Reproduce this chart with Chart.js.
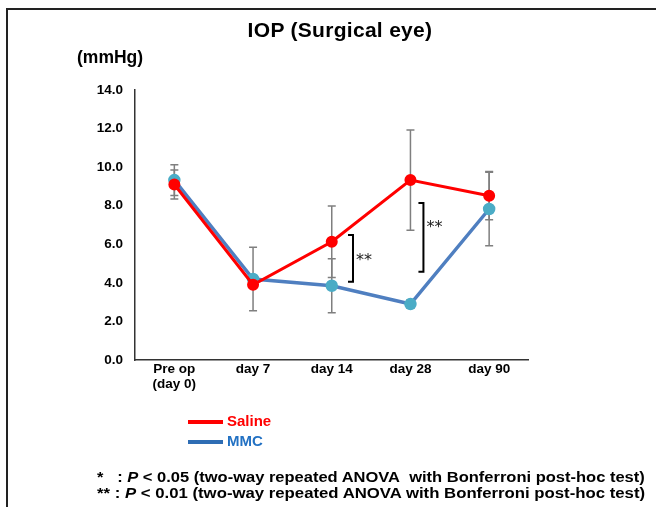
<!DOCTYPE html>
<html>
<head>
<meta charset="utf-8">
<script src="https://cdn.jsdelivr.net/npm/chart.js@4.4.1/dist/chart.umd.min.js"></script>
<style>
  html, body { margin: 0; padding: 0; background: #fff; }
  #wrap { position: relative; width: 656px; height: 507px; overflow: hidden; font-family: "Liberation Sans", Arial, sans-serif; }
  #frame { position: absolute; left: 6px; top: 8px; width: 700px; height: 600px; border-left: 2px solid #222; border-top: 2px solid #222; }
  canvas { position: absolute; left: 0; top: 0; }
  .t { position: absolute; font-weight: bold; white-space: nowrap; color: #000; }
  #title { left: 0; width: 680px; text-align: center; top: 18px; font-size: 21px; letter-spacing: 0.3px; }
  #unit { left: 77px; top: 47px; font-size: 17.5px; }
  .legline { position: absolute; height: 4px; width: 35px; left: 188px; }
  .legtxt { position: absolute; left: 227px; font-size: 15px; font-weight: bold; }
  .foot { position: absolute; display: inline-block; font-size: 14px; font-weight: bold; white-space: nowrap; transform-origin: 0 50%; }
</style>
</head>
<body>
<div id="wrap">
  <div id="frame"></div>
  <canvas id="c" width="656" height="507"></canvas>
  <div class="t" id="title">IOP (Surgical eye)</div>
  <div class="t" id="unit">(mmHg)</div>
  <div class="legline" style="top:420px;background:#ff0000;"></div>
  <div class="legtxt" style="top:412px;color:#ff0000;">Saline</div>
  <div class="legline" style="top:440px;background:#2e6db4;"></div>
  <div class="legtxt" style="top:432px;color:#2271c3;">MMC</div>
  <div class="foot" id="f1" style="left:97px;top:469px;">*&nbsp;&nbsp;&nbsp;: <i>P</i> &lt; 0.05 (two-way repeated ANOVA&nbsp; with Bonferroni post-hoc test)</div>
  <div class="foot" id="f2" style="left:97px;top:485px;">** : <i>P</i> &lt; 0.01 (two-way repeated ANOVA with Bonferroni post-hoc test)</div>
</div>
<script>
// ---- data ----
const categories = [["Pre op", "(day 0)"], "day 7", "day 14", "day 28", "day 90"];
const salineValues = [9.1, 3.9, 6.13, 9.33, 8.52];
const salineErrors = [0.75, null, 1.85, 2.6, 1.25];
const mmcValues = [9.33, 4.2, 3.85, 2.9, 7.83];
const mmcErrors = [0.8, 1.65, 1.4, 0.22, 1.9];
const yTicks = { min: 0, max: 14, step: 2 };
// significance brackets: category index, offset (in categories), top/bottom values, label value
const sigIndex = [2, 3];
const sigOffset = [0.27, 0.165];
const sigTop = [6.48, 8.14];
const sigBottom = [4.06, 4.58];
const sigLabelY = [5.3, 7.0];
const sigLabel = ["**", "**"];

// stretch footnotes to the reference's wider bold type
(function () {
  ['f1', 'f2'].forEach(id => {
    const el = document.getElementById(id);
    el.style.transform = 'scaleX(' + (548 / el.offsetWidth) + ')';
  });
})();

const errorBarPlugin = {
  id: 'errorBars',
  beforeDatasetsDraw(chart) {
    const ctx = chart.ctx;
    const xs = chart.scales.x, ys = chart.scales.y;
    const sets = [[salineValues, salineErrors], [mmcValues, mmcErrors]];
    ctx.save();
    ctx.strokeStyle = '#7f7f7f';
    ctx.lineWidth = 1.5;
    sets.forEach(([vals, errs]) => {
      vals.forEach((v, i) => {
        const e = errs[i];
        if (e == null) return;
        const x = xs.getPixelForValue(i);
        const yt = ys.getPixelForValue(v + e);
        const yb = ys.getPixelForValue(v - e);
        ctx.beginPath();
        ctx.moveTo(x, yt); ctx.lineTo(x, yb);
        ctx.moveTo(x - 4, yt); ctx.lineTo(x + 4, yt);
        ctx.moveTo(x - 4, yb); ctx.lineTo(x + 4, yb);
        ctx.stroke();
      });
    });
    ctx.restore();
  },
  afterDatasetsDraw(chart) {
    const ctx = chart.ctx;
    const xs = chart.scales.x, ys = chart.scales.y;
    const catW = xs.getPixelForValue(1) - xs.getPixelForValue(0);
    ctx.save();
    ctx.strokeStyle = '#000';
    ctx.lineWidth = 2;
    ctx.fillStyle = '#222';
    ctx.font = '16px "DejaVu Sans", sans-serif';
    ctx.textBaseline = 'middle';
    sigIndex.forEach((idx, k) => {
      const x = xs.getPixelForValue(idx) + sigOffset[k] * catW;
      const yt = ys.getPixelForValue(sigTop[k]);
      const yb = ys.getPixelForValue(sigBottom[k]);
      ctx.beginPath();
      ctx.moveTo(x - 5, yt); ctx.lineTo(x, yt); ctx.lineTo(x, yb); ctx.lineTo(x - 5, yb);
      ctx.stroke();
      ctx.fillText(sigLabel[k], x + 3, ys.getPixelForValue(sigLabelY[k]) + 3);
    });
    ctx.restore();
  }
};

const tickFont = { family: '"Liberation Sans", Arial, sans-serif', size: 13.5, weight: 'bold', lineHeight: 1.1 };

new Chart(document.getElementById('c'), {
  type: 'line',
  data: {
    labels: categories,
    datasets: [
      {
        label: 'Saline', data: salineValues,
        borderColor: '#ff0000', backgroundColor: '#ff0000',
        pointBackgroundColor: '#ff0000', pointBorderColor: '#ff0000',
        borderWidth: 3, pointRadius: 4.5, tension: 0
      },
      {
        label: 'MMC', data: mmcValues,
        borderColor: '#4f7fc0', backgroundColor: '#4bacc6',
        pointBackgroundColor: '#4bacc6', pointBorderColor: '#4bacc6',
        borderWidth: 3.5, pointRadius: 4.5, tension: 0
      }
    ]
  },
  options: {
    responsive: false,
    animation: false,
    devicePixelRatio: 1,
    layout: { padding: { left: 0, right: 127.5, top: 90, bottom: 0 } },
    plugins: { legend: { display: false }, title: { display: false }, tooltip: { enabled: false } },
    scales: {
      x: {
        type: 'category',
        offset: true,
        grid: { display: false, drawTicks: false },
        border: { color: '#333', width: 1.5 },
        ticks: { color: '#000', padding: 2, font: tickFont, maxRotation: 0, autoSkip: false },
        afterFit(s) { s.height = 147; }
      },
      y: {
        min: yTicks.min, max: yTicks.max,
        grid: { display: false, drawTicks: false },
        border: { color: '#333', width: 1.5 },
        ticks: { stepSize: yTicks.step, color: '#000', padding: 12, font: tickFont,
          callback: v => Number(v).toFixed(1) },
        afterFit(s) { s.width = 135; }
      }
    }
  },
  plugins: [errorBarPlugin]
});
</script>
</body>
</html>
